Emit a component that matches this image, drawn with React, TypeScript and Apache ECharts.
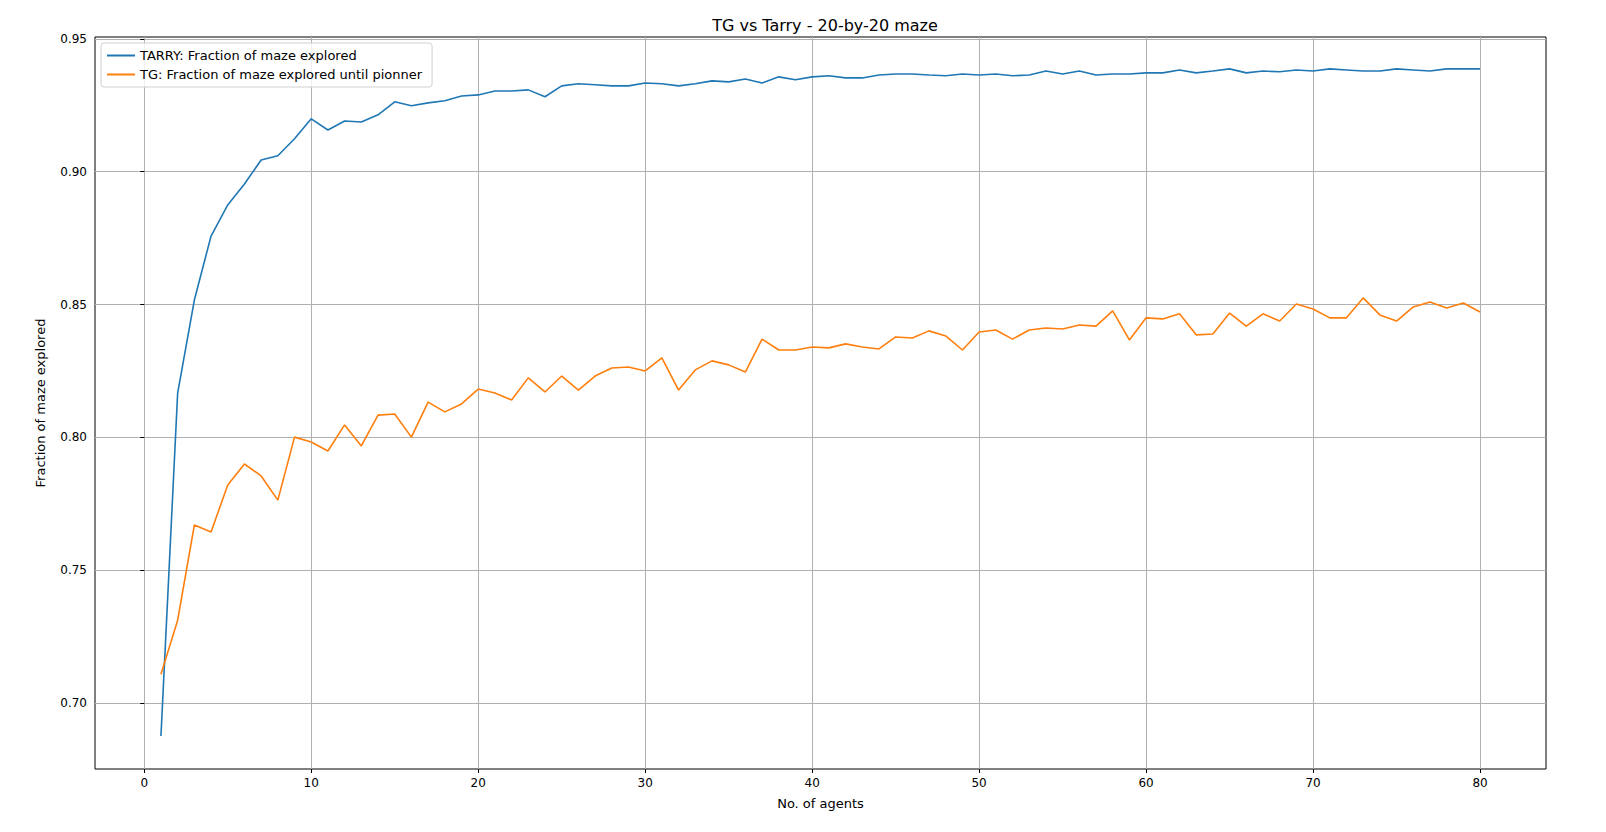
import React, { useEffect, useRef } from "react";
import * as echarts from "echarts";

const agents = Array.from({ length: 80 }, (_, i) => i + 1);
const tarry = [0.6876,0.8167,0.8517,0.8758,0.8875,0.8954,0.9044,0.906,0.9124,0.9199,0.9157,0.9191,0.9187,0.9214,0.9263,0.9248,0.9259,0.9267,0.9285,0.9289,0.9304,0.9304,0.9308,0.9282,0.9323,0.9331,0.9327,0.9323,0.9323,0.9334,0.9331,0.9323,0.9331,0.9342,0.9338,0.9349,0.9334,0.9357,0.9346,0.9357,0.9361,0.9353,0.9353,0.9364,0.9368,0.9368,0.9364,0.9361,0.9368,0.9364,0.9368,0.9361,0.9364,0.9379,0.9368,0.9379,0.9364,0.9368,0.9368,0.9372,0.9372,0.9383,0.9372,0.9379,0.9387,0.9372,0.9379,0.9376,0.9383,0.9379,0.9387,0.9383,0.9379,0.9379,0.9387,0.9383,0.9379,0.9387,0.9387,0.9387];
const tg = [0.7109,0.7312,0.767,0.7644,0.7821,0.79,0.7855,0.7764,0.8001,0.7983,0.7949,0.8047,0.7968,0.8084,0.8088,0.8001,0.8133,0.8096,0.8126,0.8182,0.8167,0.8141,0.8224,0.8171,0.8231,0.8178,0.8231,0.8261,0.8265,0.825,0.8299,0.8178,0.8254,0.8288,0.8273,0.8246,0.837,0.8329,0.8329,0.834,0.8337,0.8352,0.834,0.8333,0.8378,0.8374,0.8401,0.8382,0.8329,0.8397,0.8404,0.837,0.8404,0.8412,0.8408,0.8423,0.8419,0.8476,0.8367,0.845,0.8446,0.8465,0.8386,0.8389,0.8468,0.8419,0.8465,0.8438,0.8502,0.8483,0.845,0.845,0.8525,0.8461,0.8438,0.8491,0.851,0.8487,0.8506,0.8472];
const xTicks = [0, 10, 20, 30, 40, 50, 60, 70, 80];
const yTicks = [0.7, 0.75, 0.8, 0.85, 0.9, 0.95];

const font = "DejaVu Sans";

export default function App() {
  const ref = useRef<HTMLDivElement>(null);
  useEffect(() => {
    const chart = echarts.init(ref.current!, null, { renderer: "svg" });
    const grid = { show: true, lineStyle: { color: "#b0b0b0", width: 1 } };
    chart.setOption({
      animation: false,
      textStyle: { fontFamily: font },
      title: {
        text: "TG vs Tarry - 20-by-20 maze",
        left: 820,
        textAlign: "center",
        top: 12,
        textStyle: { fontFamily: font, fontSize: 16, fontWeight: "normal", color: "#000" },
      },
      grid: { left: 95, right: 60, top: 37, bottom: 63, show: true, borderColor: "#000", borderWidth: 1 },
      legend: {
        left: 101, top: 43, orient: "vertical", itemGap: 6, itemWidth: 28, itemHeight: 2,
        padding: [6, 10, 6, 6], borderColor: "#d0d0d0", borderWidth: 1, borderRadius: 3,
        backgroundColor: "rgba(255,255,255,0.8)",
        textStyle: { fontFamily: font, fontSize: 13, color: "#000" },
        data: [
          { name: "TARRY: Fraction of maze explored", icon: "rect" },
          { name: "TG: Fraction of maze explored until pionner", icon: "rect" },
        ],
      },
      xAxis: {
        type: "value", min: -2.95, max: 83.95,
        name: "No. of agents", nameLocation: "middle", nameGap: 28,
        nameTextStyle: { fontFamily: font, fontSize: 13, color: "#000" },
        axisLine: { show: false },
        axisTick: { show: true, customValues: xTicks, length: 4, lineStyle: { color: "#000" } },
        axisLabel: { customValues: xTicks, fontFamily: font, fontSize: 12, color: "#000", margin: 8 },
        splitLine: grid,
      },
      yAxis: {
        type: "value", min: 0.6752, max: 0.9507,
        name: "Fraction of maze explored", nameLocation: "middle", nameGap: 48,
        nameTextStyle: { fontFamily: font, fontSize: 13, color: "#000" },
        axisLine: { show: false },
        axisTick: { show: true, customValues: yTicks, length: 4, lineStyle: { color: "#000" } },
        axisLabel: { customValues: yTicks, fontFamily: font, fontSize: 12, color: "#000", margin: 8,
          formatter: (v: number) => v.toFixed(2) },
        splitLine: grid,
      },
      series: [
        { name: "TARRY: Fraction of maze explored", type: "line", symbol: "none",
          data: agents.map((a, i) => [a, tarry[i]]), lineStyle: { color: "#1f77b4", width: 1.6 }, itemStyle: { color: "#1f77b4" } },
        { name: "TG: Fraction of maze explored until pionner", type: "line", symbol: "none",
          data: agents.map((a, i) => [a, tg[i]]), lineStyle: { color: "#ff7f0e", width: 1.6 }, itemStyle: { color: "#ff7f0e" } },
      ],
    });
    return () => chart.dispose();
  }, []);
  return <div ref={ref} style={{ position: "fixed", left: 0, top: 0, width: 1606, height: 832, background: "#fff" }} />;
}
